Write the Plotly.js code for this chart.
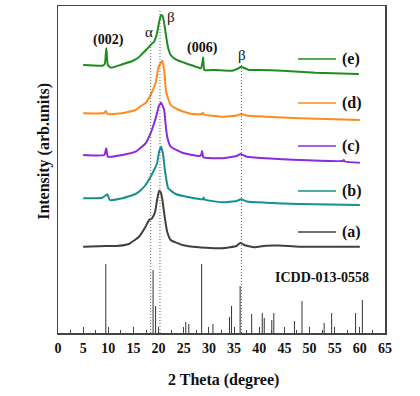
<!DOCTYPE html>
<html><head><meta charset="utf-8">
<script src="https://cdn.plot.ly/plotly-3.0.1.min.js"></script>
<style>html,body{margin:0;padding:0;background:#fff}</style>
</head><body><div id="chart" style="width:420px;height:396px"></div>
<script>
// (e)
const xE = [5.0,8.8,9.3,9.6,9.9,10.5,12.8,14.8,16.0,16.8,17.5,18.1,18.6,19.1,19.4,19.7,20.1,20.5,20.8,21.1,21.4,21.7,22.0,22.4,23.4,25.4,27.4,28.4,28.7,28.85,29.1,31.3,34.6,35.8,36.4,37.2,38.0,40.0,44.6,51.2,59.8];
const yE = [268,267.3,269,284.7,268,265.3,268.7,272,275.5,279.7,283,286.3,289,291.3,295,300,311,318,317,310,300,290,283,278,273.7,269.7,266.3,264.7,270,275.7,263,263,262.3,264.5,266.3,264.5,263,263,262.3,260.3,259];
// (d)
const xD = [5.0,9.2,9.5,9.8,12.8,15.4,16.5,17.4,18.4,19.4,20.0,20.7,21.1,21.5,22.4,24.0,26.7,28.6,28.8,29.0,32.6,35.5,36.4,37.5,41.3,47.9,60.0];
const yD = [219.7,220,222,219,219.7,223,227,230,238,250,266,272.3,263,241,228,223,219,219,220.3,218.5,216.3,217.5,219,217.5,216.3,214.7,213];
// (c)
const xC = [5.0,9.2,9.6,9.9,12.8,15.4,17.4,18.4,19.1,19.7,20.0,20.5,21.1,21.4,21.7,22.4,24.7,28.0,28.45,28.65,28.9,32.6,35.5,36.3,37.5,41.3,47.9,56.6,56.8,57.0,60.0];
const yC = [178,178,184.7,176.3,178,181.3,189.7,199.7,209.7,220,226.3,230.3,223,208,196.3,186.3,180.3,177,178,182,175.7,174.7,177,179,176.3,174.7,173,172,173,171.5,170.3];
// (b)
const xB = [5.0,8.8,9.8,10.3,12.8,15.4,16.5,17.4,18.4,19.1,19.7,20.1,20.5,20.9,21.3,21.9,23.4,26.1,28.8,28.95,29.1,32.6,35.5,36.4,37.5,41.3,47.9,60.0];
const yB = [134.7,135.3,138.7,133,134.7,139,143,148,156.3,163,170,181.3,186.3,178,161,144.7,139,135.7,133.7,135.5,133.5,130.7,132,133.7,131.5,130.3,129,128];
// (a)
const xA = [5.0,9.6,11.5,14.1,16.1,17.4,18.1,18.7,19.3,19.7,20.1,20.4,20.7,21.3,21.7,22.4,24.7,28.0,32.6,35.5,36.3,37.0,39.0,41.3,44.0,47.9,60.0];
const yA = [86.3,87,87,89,96.3,106.3,113,114.7,121.3,133,142.3,141,134.7,113,101.3,93,88,85.7,84.7,87,90.3,88,85.7,87.3,87.5,86.3,86.3];
// ICDD-013-0558 reference sticks
const icddPos = [9.5,18.9,19.4,25.4,26.0,28.55,30.8,34.1,34.5,36.2,38.5,40.6,41.0,42.5,42.9,47.0,48.5,52.9,54.4,59.15,60.5];
const icddInt = [69,63,27,11,9,69,9,16,27,47,19,20,15,13,20,12,32,10,20,20,33];
// dotted reference lines
const refX = [18.42,20.27,36.46];
const refTop = [293,323,270];
const labels = ['(a)','(b)','(c)','(d)','(e)'];
const legendY = [101,142,187,230,274];
const colors = ['#404040','#13908f','#8a2be2','#ff8c1a','#1f8c1f'];

const series = [[xA,yA],[xB,yB],[xC,yC],[xD,yD],[xE,yE]];
const traces = [];
series.forEach((s,i)=>{
  traces.push({x:s[0],y:s[1],mode:'lines',line:{color:colors[i],width:2,shape:'spline',smoothing:0.4},hoverinfo:'skip',showlegend:false});
  traces.push({x:[47.7,55.25],y:[legendY[i],legendY[i]],mode:'lines',line:{color:colors[i],width:1.5},showlegend:false,hoverinfo:'skip'});
});
const sx=[],sy=[];
icddPos.forEach((p,i)=>{sx.push(p,p,null);sy.push(0,icddInt[i],null);});
traces.push({x:sx,y:sy,mode:'lines',line:{color:'#333',width:1},showlegend:false,hoverinfo:'skip'});

const bold = {family:'Liberation Serif',size:16,color:'#111',weight:'bold'};
const annotations = [];
labels.forEach((t,i)=>annotations.push({x:56.0,y:legendY[i],text:t,showarrow:false,font:bold,xanchor:'left',yanchor:'middle'}));
annotations.push({x:18.08,y:301,text:'α',showarrow:false,font:{family:'Liberation Serif',size:15,color:'#111'}});
annotations.push({x:22.4,y:316,text:'β',showarrow:false,font:{family:'Liberation Serif',size:15,color:'#111'}});
annotations.push({x:36.56,y:278,text:'β',showarrow:false,font:{family:'Liberation Serif',size:15,color:'#111'}});
annotations.push({x:10.1,y:293,text:'(002)',showarrow:false,font:{family:'Liberation Serif',size:14,color:'#111',weight:'bold'}});
annotations.push({x:28.8,y:285,text:'(006)',showarrow:false,font:{family:'Liberation Serif',size:14,color:'#111',weight:'bold'}});
annotations.push({x:52.45,y:56,text:'ICDD-013-0558',showarrow:false,font:{family:'Liberation Serif',size:14,color:'#111',weight:'bold'}});
annotations.push({xref:'paper',yref:'paper',x:-0.0765,y:0.557,text:'Intensity (arb.units)',textangle:-90,showarrow:false,font:{family:'Liberation Serif',size:16,color:'#111',weight:'bold'}});
annotations.push({xref:'paper',yref:'paper',x:0.505,y:-0.144,text:'2 Theta (degree)',showarrow:false,yanchor:'middle',font:{family:'Liberation Serif',size:16,color:'#111',weight:'bold'}});

const shapes = refX.map((x,i)=>({type:'line',x0:x,x1:x,y0:0,y1:refTop[i],line:{color:'#666',width:1,dash:'1px,2px'}}));

const layout = {
  width:420,height:396,margin:{l:58,r:35,t:6,b:63},
  paper_bgcolor:'#fff',plot_bgcolor:'#fff',
  xaxis:{range:[0,65],tickvals:[0,5,10,15,20,25,30,35,40,45,50,55,60,65],ticks:'inside',ticklen:6,tickcolor:'#444',
    minor:{dtick:2.5,ticks:'inside',ticklen:3,tickcolor:'#444'},
    showline:true,linecolor:'#444',linewidth:1.5,mirror:true,showgrid:false,zeroline:false,ticklabelstandoff:2,
    tickfont:{family:'Liberation Serif',size:14,color:'#111',weight:'bold'}},
  yaxis:{range:[0,327],showticklabels:false,ticks:'',showline:true,linecolor:'#444',linewidth:1.5,mirror:true,showgrid:false,zeroline:false},
  annotations,shapes,showlegend:false
};
Plotly.newPlot('chart',traces,layout,{staticPlot:true,displayModeBar:false});
</script></body></html>
